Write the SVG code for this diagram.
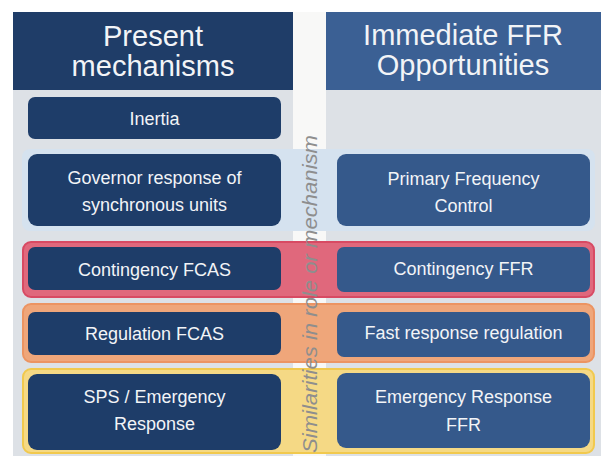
<svg xmlns="http://www.w3.org/2000/svg" width="601" height="456" viewBox="0 0 601 456">
<style>
text{font-family:"Liberation Sans",Arial,sans-serif;fill:#f2f4f7;text-anchor:middle}
.hdr{font-size:29px}
.lbl{font-size:18px}
.ln{fill:#1e3d69}
.rn{fill:#35598b}
.side{font-size:21px;font-style:italic;fill:#8e8e8e}
</style>
<rect width="601" height="456" fill="#ffffff"/>
<g id="panels">
<rect x="13" y="90" width="280" height="366" fill="#dde1e6"/>
<rect x="326" y="90" width="275" height="366" fill="#dde1e6"/>
<rect x="293" y="12" width="33" height="444" fill="#f8f8f7"/>
<rect x="22" y="149" width="573" height="82" rx="8" fill="#d5e2ef"/>
</g>
<g id="header-left">
<rect x="13" y="12" width="280" height="78" fill="#1f3d68"/>
<text class="hdr" x="153" y="46">Present</text>
<text class="hdr" x="153" y="76">mechanisms</text>
</g>
<g id="header-right">
<rect x="326" y="12" width="275" height="78" fill="#3b6094"/>
<text class="hdr" x="463" y="45">Immediate FFR</text>
<text class="hdr" x="463" y="75">Opportunities</text>
</g>
<g id="bands">
<rect x="23" y="242" width="571" height="55" rx="8" fill="#e0687c" stroke="#d84a63" stroke-width="2"/>
<rect x="23" y="304" width="571" height="58" rx="8" fill="#efa67a" stroke="#ec9462" stroke-width="2"/>
<rect x="23" y="369" width="571" height="84" rx="8" fill="#f5d985" stroke="#f1c94e" stroke-width="2"/>
</g>
<g id="side-label">
<text class="side" transform="translate(317,294) rotate(-90)" textLength="318" lengthAdjust="spacingAndGlyphs">Similarities in role or mechanism</text>
</g>
<g id="inertia">
<rect x="28" y="97" width="253" height="42" rx="7" class="ln"/>
<text class="lbl" x="154.5" y="125">Inertia</text>
</g>
<g id="governor">
<rect x="28" y="154" width="253" height="72" rx="9" class="ln"/>
<text class="lbl" x="154.5" y="184">Governor response of</text>
<text class="lbl" x="154.5" y="211">synchronous units</text>
</g>
<g id="contingency-fcas">
<rect x="28" y="247" width="253" height="43" rx="7" class="ln"/>
<text class="lbl" x="154.5" y="276">Contingency FCAS</text>
</g>
<g id="regulation-fcas">
<rect x="28" y="312" width="253" height="43" rx="7" class="ln"/>
<text class="lbl" x="154.5" y="340">Regulation FCAS</text>
</g>
<g id="sps">
<rect x="28" y="374" width="253" height="76" rx="9" class="ln"/>
<text class="lbl" x="154.5" y="403">SPS / Emergency</text>
<text class="lbl" x="154.5" y="430">Response</text>
</g>
<g id="primary">
<rect x="337" y="154" width="253" height="72" rx="9" class="rn"/>
<text class="lbl" x="463.5" y="185">Primary Frequency</text>
<text class="lbl" x="463.5" y="212">Control</text>
</g>
<g id="contingency-ffr">
<rect x="337" y="247" width="253" height="45" rx="7" class="rn"/>
<text class="lbl" x="463.5" y="275">Contingency FFR</text>
</g>
<g id="fast-regulation">
<rect x="337" y="312" width="253" height="45" rx="7" class="rn"/>
<text class="lbl" x="463.5" y="339">Fast response regulation</text>
</g>
<g id="emergency-ffr">
<rect x="337" y="373" width="253" height="75" rx="9" class="rn"/>
<text class="lbl" x="463.5" y="403">Emergency Response</text>
<text class="lbl" x="463.5" y="431">FFR</text>
</g>
<g id="connectors"/>
</svg>
